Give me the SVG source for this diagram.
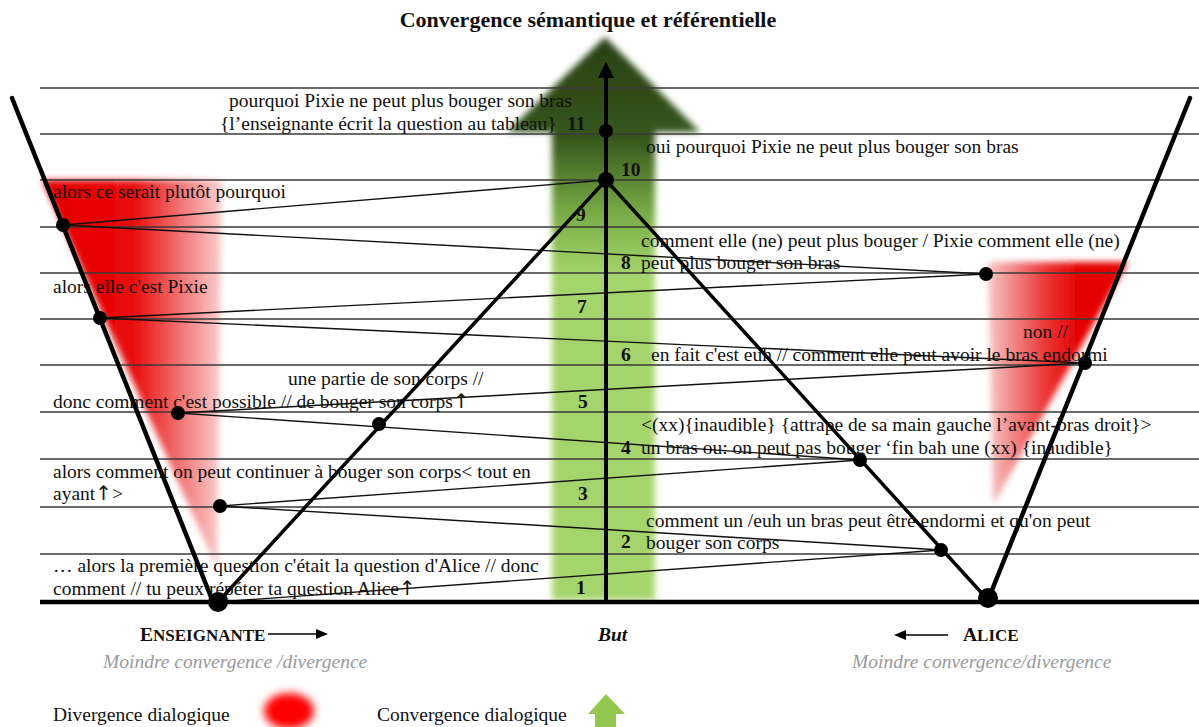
<svg xmlns="http://www.w3.org/2000/svg" width="1199" height="727" viewBox="0 0 1199 727">
<style>
.t{font-family:"Liberation Serif","Times New Roman",serif;font-size:19.5px;fill:#111}
.b{font-weight:bold}
.it{font-style:italic;fill:#9a9a9a}
.ar{font-family:"DejaVu Sans",sans-serif;font-size:20px}
.hl{stroke:#3a3a3a;stroke-width:1.5}
.cn{stroke:#111;stroke-width:1.4;fill:none}
.th{stroke:#000;stroke-width:4.5;stroke-linecap:round;fill:none}
.v{stroke:#000;stroke-width:3.5;stroke-linecap:round;fill:none}
.dot{fill:#000}
.gray{stroke:#a8a8a8;stroke-width:3.5;filter:url(#blur1)}
</style>
<defs>
<filter id="blur1" x="-50%" y="-10%" width="200%" height="120%"><feGaussianBlur stdDeviation="1"/></filter>
<filter id="blur3" x="-20%" y="-20%" width="140%" height="140%"><feGaussianBlur stdDeviation="3"/></filter>
<filter id="blur4" x="-30%" y="-30%" width="160%" height="160%"><feGaussianBlur stdDeviation="4"/></filter>
<linearGradient id="gArrow" x1="0" y1="37" x2="0" y2="600" gradientUnits="userSpaceOnUse">
<stop offset="0" stop-color="#2a4015"/>
<stop offset="0.18" stop-color="#36561c"/>
<stop offset="0.31" stop-color="#77aa45"/>
<stop offset="0.42" stop-color="#a5d46c"/>
<stop offset="1" stop-color="#a5d46c"/>
</linearGradient>
<linearGradient id="rL" x1="42" y1="0" x2="222" y2="0" gradientUnits="userSpaceOnUse">
<stop offset="0" stop-color="#e40000"/>
<stop offset="0.5" stop-color="#e80808"/>
<stop offset="1" stop-color="#f9d0d0"/>
</linearGradient>
<linearGradient id="rR" x1="988" y1="0" x2="1128" y2="0" gradientUnits="userSpaceOnUse">
<stop offset="0" stop-color="#f7c6c6"/>
<stop offset="0.4" stop-color="#eb3a3a"/>
<stop offset="0.65" stop-color="#e40000"/>
<stop offset="1" stop-color="#e40000"/>
</linearGradient>
</defs>

<g id="background">
<polygon points="42,180 222,180 217,568" fill="url(#rL)" filter="url(#blur3)"/>
<polygon points="988,262 1128,262 993,505" fill="url(#rR)" filter="url(#blur3)"/>
<polygon points="605,37 700,132 655,132 655,600 552,600 552,132 507,132" fill="url(#gArrow)" filter="url(#blur3)"/>
</g>

<g id="grid">
<line class="hl" x1="40" y1="88" x2="1199" y2="88"/>
<line class="hl" x1="40" y1="134" x2="1199" y2="134"/>
<line class="hl" x1="40" y1="180" x2="1199" y2="180"/>
<line class="hl" x1="40" y1="227" x2="1199" y2="227"/>
<line class="hl" x1="40" y1="273" x2="1199" y2="273"/>
<line class="hl" x1="40" y1="319" x2="1199" y2="319"/>
<line class="hl" x1="40" y1="365" x2="1199" y2="365"/>
<line class="hl" x1="40" y1="412" x2="1199" y2="412"/>
<line class="hl" x1="40" y1="459" x2="1199" y2="459"/>
<line class="hl" x1="40" y1="507" x2="1199" y2="507"/>
<line class="hl" x1="40" y1="554" x2="1199" y2="554"/>
<line class="gray" x1="220" y1="60" x2="220" y2="600"/>
<line class="gray" x1="988" y1="54" x2="988" y2="600"/>
</g>

<g id="connectors">
<line class="cn" x1="218" y1="602" x2="941" y2="550"/>
<line class="cn" x1="941" y1="550" x2="220" y2="506"/>
<line class="cn" x1="220" y1="506" x2="860" y2="460"/>
<line class="cn" x1="860" y1="460" x2="178" y2="413"/>
<line class="cn" x1="178" y1="413" x2="1085" y2="363"/>
<line class="cn" x1="1085" y1="363" x2="100" y2="318"/>
<line class="cn" x1="100" y1="318" x2="986" y2="274"/>
<line class="cn" x1="986" y1="274" x2="63" y2="225"/>
<line class="cn" x1="63" y1="225" x2="606" y2="180"/>
<polyline class="v" points="218,602 606,180 988,600"/>
<line class="th" x1="12" y1="98" x2="213" y2="602"/>
<line class="th" x1="988" y1="600" x2="1190" y2="98"/>
<line x1="606" y1="76" x2="606" y2="602" stroke="#000" stroke-width="4"/>
<polygon points="606,62 598,78 614,78" fill="#000"/>
<line x1="40" y1="602" x2="1199" y2="602" stroke="#000" stroke-width="4.5"/>
</g>

<g id="node-enseignante-start"><circle class="dot" cx="218" cy="602" r="10"/></g>
<g id="node-alice-start"><circle class="dot" cx="988" cy="598" r="10"/></g>
<g id="node-2"><circle class="dot" cx="941" cy="550" r="7"/></g>
<g id="node-3"><circle class="dot" cx="220" cy="506" r="7"/></g>
<g id="node-4"><circle class="dot" cx="860" cy="460" r="7"/></g>
<g id="node-4b"><circle class="dot" cx="379" cy="424" r="7"/></g>
<g id="node-5"><circle class="dot" cx="178" cy="413" r="7"/></g>
<g id="node-6"><circle class="dot" cx="1085" cy="363" r="7"/></g>
<g id="node-7"><circle class="dot" cx="100" cy="318" r="7"/></g>
<g id="node-8"><circle class="dot" cx="986" cy="274" r="7"/></g>
<g id="node-9"><circle class="dot" cx="63" cy="225" r="7"/></g>
<g id="node-10"><circle class="dot" cx="606" cy="180" r="8"/></g>
<g id="node-11"><circle class="dot" cx="606" cy="131" r="7"/></g>

<g id="title"><text class="t b" x="588" y="27" text-anchor="middle" style="font-size:22px">Convergence sémantique et référentielle</text></g>

<g id="numbers">
<text class="t b" x="567" y="130">11</text>
<text class="t b" x="621" y="176">10</text>
<text class="t b" x="576" y="221">9</text>
<text class="t b" x="621" y="269">8</text>
<text class="t b" x="577" y="313">7</text>
<text class="t b" x="621" y="361">6</text>
<text class="t b" x="578" y="408">5</text>
<text class="t b" x="621" y="454">4</text>
<text class="t b" x="578" y="500">3</text>
<text class="t b" x="621" y="548">2</text>
<text class="t b" x="576" y="594">1</text>
</g>

<g id="utterances">
<text class="t" x="229" y="107">pourquoi Pixie ne peut plus bouger son bras</text>
<text class="t" x="220" y="130">{l’enseignante écrit la question au tableau}</text>
<text class="t" x="646" y="153">oui pourquoi Pixie ne peut plus bouger son bras</text>
<text class="t" x="53" y="198">alors ce serait plutôt pourquoi</text>
<text class="t" x="641" y="247">comment elle (ne) peut plus bouger / Pixie comment elle (ne)</text>
<text class="t" x="641" y="269">peut plus bouger son bras</text>
<text class="t" x="53" y="293">alors elle c'est Pixie</text>
<text class="t" x="1023" y="338">non //</text>
<text class="t" x="651" y="361">en fait c'est euh // comment elle peut avoir le bras endormi</text>
<text class="t" x="288" y="385">une partie de son corps //</text>
<text class="t" x="53" y="408">donc comment c'est possible // de bouger son corps<tspan class="ar">↑</tspan></text>
<text class="t" x="641" y="431">&lt;(xx){inaudible}  {attrape de sa main gauche l’avant-bras droit}&gt;</text>
<text class="t" x="641" y="454">un bras ou: on peut pas bouger ‘fin bah une (xx) {inaudible}</text>
<text class="t" x="53" y="478">alors comment on peut continuer à bouger son corps&lt; tout en</text>
<text class="t" x="53" y="500">ayant<tspan class="ar">↑</tspan>&gt;</text>
<text class="t" x="646" y="527">comment un /euh un bras peut être endormi et qu'on peut</text>
<text class="t" x="646" y="549">bouger son corps</text>
<text class="t" x="53" y="572">… alors la première question c'était la question d'Alice // donc</text>
<text class="t" x="53" y="595">comment // tu peux répéter ta question Alice<tspan class="ar">↑</tspan></text>
</g>

<g id="axis-labels">
<text class="t b" x="140" y="641">E<tspan style="font-size:17px">NSEIGNANTE</tspan></text>
<line x1="268" y1="634" x2="318" y2="634" stroke="#000" stroke-width="1.5"/>
<polygon points="328,634 316,629 316,639" fill="#000"/>
<text class="t it" x="103" y="668">Moindre convergence /divergence</text>
<text class="t b" x="598" y="641" style="font-style:italic">But</text>
<polygon points="894,635 906,630 906,640" fill="#000"/>
<line x1="904" y1="635" x2="948" y2="635" stroke="#000" stroke-width="1.5"/>
<text class="t b" x="963" y="641">A<tspan style="font-size:17px">LICE</tspan></text>
<text class="t it" x="852" y="668">Moindre convergence/divergence</text>
</g>

<g id="legend">
<text class="t" x="53" y="721">Divergence dialogique</text>
<ellipse cx="289" cy="711" rx="25" ry="18" fill="#ff0000" filter="url(#blur4)"/>
<text class="t" x="377" y="721">Convergence dialogique</text>
<polygon points="606,694 625,714 616,714 616,727 595,727 595,714 588,714" fill="#92c84f"/>
</g>
</svg>
